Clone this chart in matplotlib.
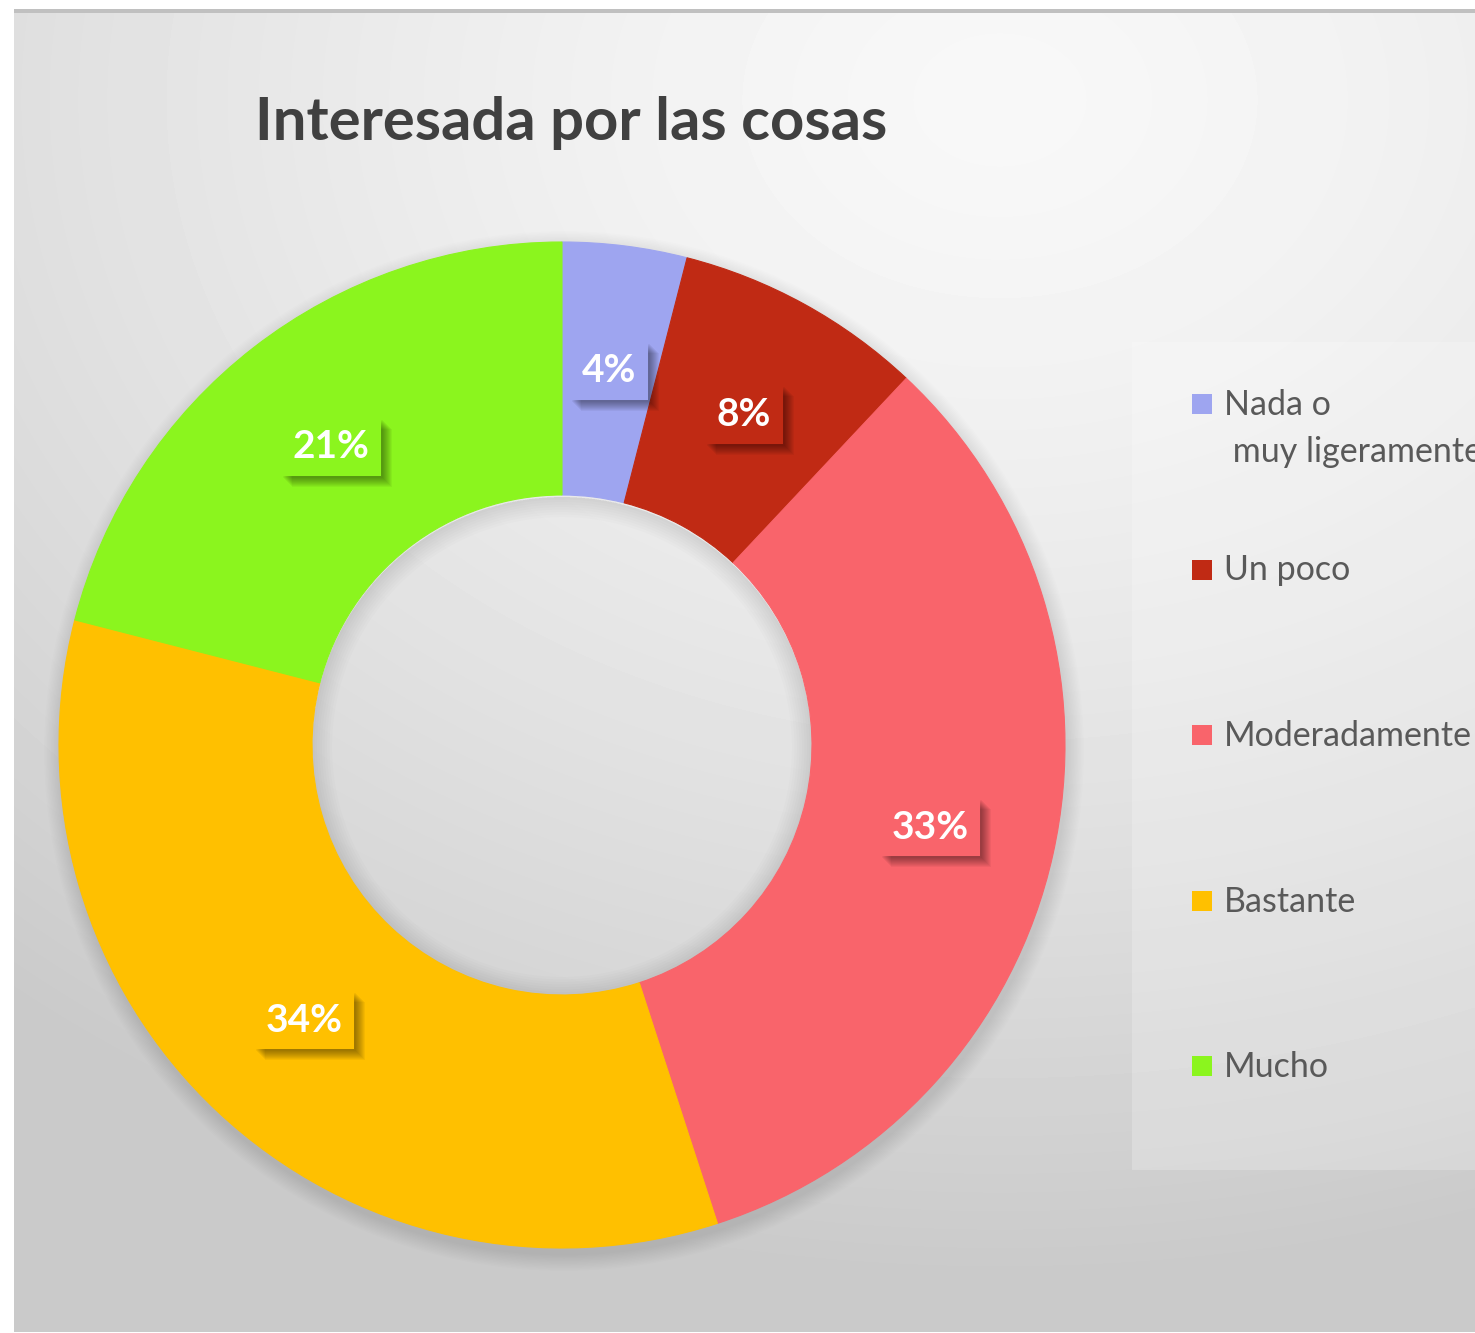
import numpy as np
import matplotlib
matplotlib.use('Agg')
import matplotlib.pyplot as plt
from matplotlib.patches import Rectangle, Wedge
import matplotlib.patheffects as pe

plt.rcParams['font.family'] = ['Lato', 'DejaVu Sans']

# ---- data ----
title = "Interesada por las cosas"
categories = ["Nada o\n muy ligeramente", "Un poco", "Moderadamente", "Bastante", "Mucho"]
values = [4, 8, 33, 34, 21]
colors = ["#9EA5F0", "#C02A14", "#F9646B", "#FFC000", "#8BF51E"]

W, H = 1475, 1333
fig = plt.figure(figsize=(W / 100, H / 100), dpi=100)
fig.patch.set_facecolor('white')

# ---- background (pixel coordinates) ----
bg = fig.add_axes([0, 0, 1, 1], zorder=0)
x0, y0, x1, y1 = 14, 13, W, 1332
xs = np.arange(x0, x1) + 0.5
ys = np.arange(y0, y1) + 0.5
X, Y = np.meshgrid(xs, ys)
d = np.sqrt(((X - 1000) / 1.3) ** 2 + (Y - 100) ** 2)
v = 0.972 - 0.182 * np.clip(d / 1180, 0, 1) ** 1.4
bg.imshow(v, cmap='gray', vmin=0, vmax=1, extent=(x0, x1, y1, y0),
          interpolation='bilinear', aspect='auto')
bg.set_xlim(0, W)
bg.set_ylim(H, 0)
bg.axis('off')
bg.add_patch(Rectangle((14, 9), W - 14, 4, facecolor='#c0c0c0', edgecolor='none'))

# title
bg.text(255, 140, title, fontsize=43, fontweight='bold', color='#404040',
        ha='left', va='baseline')

# legend box
bg.add_patch(Rectangle((1132, 342), 400, 828, facecolor='white', alpha=0.22,
                       edgecolor='none'))
for i, (lab, c) in enumerate(zip(categories, colors)):
    b = 415 + 165.5 * i
    bg.add_patch(Rectangle((1192, b - 21), 20, 20, facecolor=c, edgecolor='none'))
    for j, line in enumerate(lab.split('\n')):
        bg.text(1224, b + 47 * j, line, fontsize=24.5, color='#595959',
                ha='left', va='baseline')

# ---- donut ----
R = 503.0
cx, cy = 562, 745
m = 1.15
hs = R * m
ax = fig.add_axes([(cx - hs) / W, (H - cy - hs) / H, 2 * hs / W, 2 * hs / H], zorder=1)

# soft outer shadow (annuli only, so the hole stays clear)
for k in range(12):
    r = 1.0 + 0.0028 * (k + 1)
    ax.add_patch(Wedge((0.004, -0.012), r, 0, 360, width=r - 0.9, facecolor='black',
                       alpha=0.009, edgecolor='none', zorder=0))

wedges, texts, autotexts = ax.pie(
    values, colors=colors, startangle=90, counterclock=False, radius=1,
    wedgeprops=dict(width=0.503, linewidth=0.8),
    autopct='%1.0f%%', pctdistance=0.75,
    textprops=dict(color='white', fontsize=28, fontweight='bold', family=['Lato', 'DejaVu Sans']))
for w, c in zip(wedges, colors):
    w.set_edgecolor(c)

# inner shading of the hole
for k in range(8):
    ax.add_patch(Wedge((0, -0.004), 0.497, 0, 360, width=0.005 * (k + 1),
                       facecolor='black', alpha=0.011, edgecolor='none', zorder=0.5))

shadow_fx = [pe.SimplePatchShadow(offset=(o * 0.72, -o * 0.72), shadow_rgbFace='black',
                                  alpha=0.045) for o in range(2, 12)] + [pe.Normal()]
for t, c in zip(autotexts, colors):
    t.set_bbox(dict(boxstyle='square,pad=0.3', facecolor=c, edgecolor='none'))
    t.get_bbox_patch().set_path_effects(shadow_fx)

ax.set_xlim(-m, m)
ax.set_ylim(-m, m)
ax.set_aspect('auto')
ax.axis('off')

fig.savefig('out.png', dpi=100)
